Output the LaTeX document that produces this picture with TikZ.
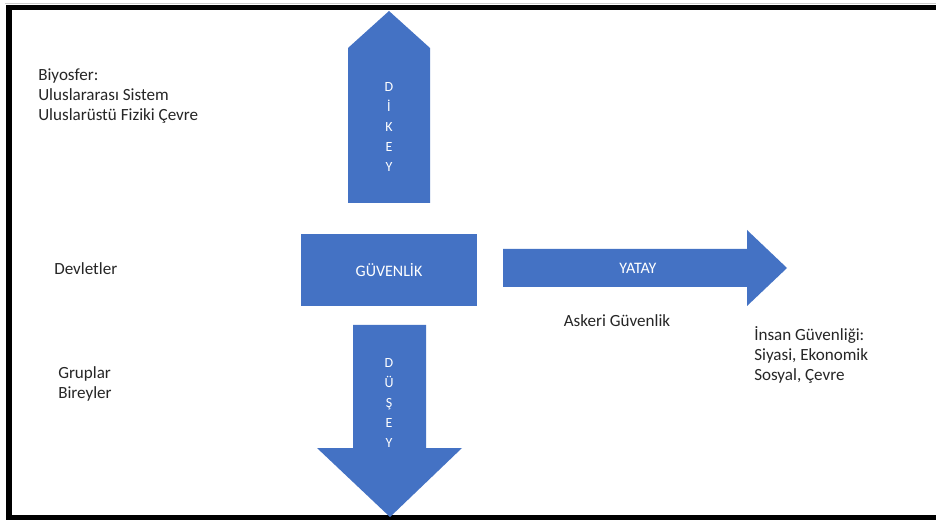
\documentclass[tikz,border=0pt]{standalone}
\usepackage{fontspec}
\setmainfont{Carlito}
\definecolor{oblue}{HTML}{4472C4}
\definecolor{txt}{HTML}{262626}
\begin{document}
\begin{tikzpicture}[x=0.75pt,y=-0.75pt,
  shapefill/.style={fill=oblue,draw=none},
  wlabel/.style={text=white,font=\fontsize{12}{14}\selectfont,inner sep=0pt},
  vlabel/.style={text=white,font=\fontsize{10.5}{15}\selectfont,align=center,inner sep=0pt},
  blabel/.style={text=txt,font=\fontsize{12.8}{15}\selectfont,align=left,inner sep=0pt},
  frame/.style={line width=4pt,draw=black}]
\useasboundingbox (0,0) rectangle (936,520);
\fill[white] (0,0) rectangle (936,520);
% frame
\draw[gray!40,line width=1pt] (5,3.5) -- (940,3.5);
\draw[frame] (945,7.5) -- (9,7.5) -- (9,518) -- (945,518);
% up arrow DIKEY
\path[shapefill] (348,203) -- (348,48) -- (389,11) -- (430,48) -- (430,203) -- cycle;
\node[vlabel] (dikey) at (389,127) {D\\İ\\K\\E\\Y};
% center box
\node[shapefill,minimum width=176*0.75pt,minimum height=72*0.75pt,inner sep=0pt] (guv) at (389,270) {};
\node[wlabel] (guvt) at (guv.center) {GÜVENLİK};
% right arrow YATAY
\path[shapefill] (503,249) -- (747,249) -- (747,230) -- (787,268) -- (747,306) -- (747,287) -- (503,287) -- cycle;
\node[wlabel] (yatay) at (638,268) {YATAY};
% down arrow DUSEY
\path[shapefill] (353,325) -- (426,325) -- (426,448) -- (462,448) -- (390,517) -- (317,448) -- (353,448) -- cycle;
\node[vlabel] (dusey) at (389,403) {D\\Ü\\Ş\\E\\Y};
% texts
\node[blabel,anchor=north west] (bio) at (38,68) {Biyosfer:\\Uluslararası Sistem\\Uluslarüstü Fiziki Çevre};
\node[blabel,anchor=west] (dev) at (54,269) {Devletler};
\node[blabel,anchor=north west] (gru) at (58,366) {Gruplar\\Bireyler};
\node[blabel] (ask) at (617,321) {Askeri Güvenlik};
\node[blabel,anchor=north west] (ins) at (754,326) {İnsan Güvenliği:\\Siyasi, Ekonomik\\Sosyal, Çevre};
\end{tikzpicture}
\end{document}
